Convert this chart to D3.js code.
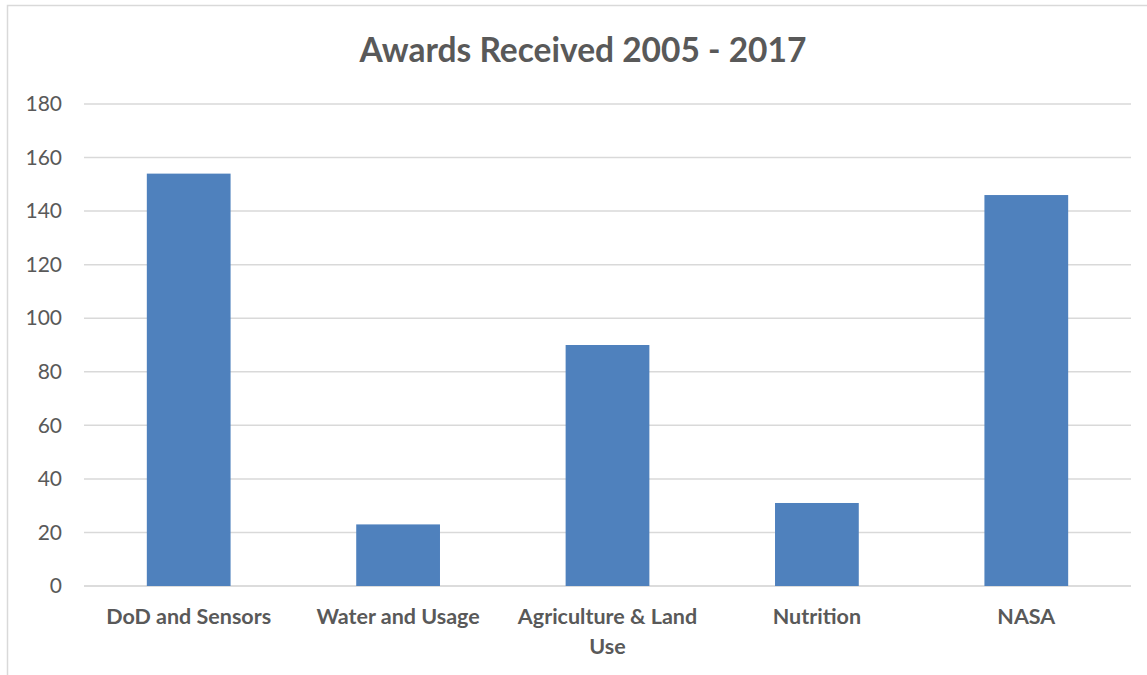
<!DOCTYPE html>
<html><head><meta charset="utf-8">
<script src="https://cdn.jsdelivr.net/npm/d3@7"></script>
<style>body{margin:0;background:#fff;} svg{display:block;}</style>
</head><body>
<script>
const categories = ["DoD and Sensors", "Water and Usage", "Agriculture & Land Use", "Nutrition", "NASA"];
const categoryLines = [["DoD and Sensors"], ["Water and Usage"], ["Agriculture & Land", "Use"], ["Nutrition"], ["NASA"]];
const values = [154, 23, 90, 31, 146];
const yTicks = [0, 20, 40, 60, 80, 100, 120, 140, 160, 180];
const title = "Awards Received 2005 - 2017";

const W = 1147, H = 675;
const svg = d3.select("body").append("svg").attr("width", W).attr("height", H);
const font = "Lato, 'Open Sans', sans-serif";

// chart border
svg.append("path").attr("d", `M7.5,${H} V5.5 H${W}`).attr("fill", "none").attr("stroke", "#d9d9d9").attr("stroke-width", 1.5);

const plotL = 84, plotR = 1131, plotT = 104, plotB = 586;
const x = d3.scaleBand().domain(categories).range([plotL, plotR]).paddingInner(0.6).paddingOuter(0.3);
const y = d3.scaleLinear().domain([0, 180]).range([plotB, plotT]);

svg.append("text").attr("x", 583).attr("y", 62).attr("text-anchor", "middle")
  .attr("font-family", font).attr("font-weight", "bold").attr("font-size", 33.5).attr("fill", "#595959").text(title);

const grid = svg.append("g");
grid.selectAll("line").data(yTicks).join("line")
  .attr("x1", plotL).attr("x2", plotR).attr("y1", d => y(d)).attr("y2", d => y(d))
  .attr("stroke", d => d === 0 ? "#d0d0d0" : "#d9d9d9").attr("stroke-width", 1.5);

const yAxis = svg.append("g").attr("transform", `translate(${plotL},0)`)
  .call(d3.axisLeft(y).tickValues(yTicks).tickSize(0).tickPadding(22));
yAxis.select(".domain").remove();
yAxis.selectAll("text").attr("font-family", font).attr("font-size", 21).attr("fill", "#595959");

svg.append("g").selectAll("rect").data(values).join("rect")
  .attr("x", (d, i) => x(categories[i])).attr("width", x.bandwidth())
  .attr("y", d => y(d)).attr("height", d => y(0) - y(d)).attr("fill", "#4f81bd");

const labels = svg.append("g").selectAll("text").data(categories).join("text")
  .attr("text-anchor", "middle").attr("font-family", font).attr("font-weight", "bold")
  .attr("font-size", 21.5).attr("fill", "#595959")
  .attr("transform", d => `translate(${x(d) + x.bandwidth() / 2},624)`);
labels.each(function(d, i) {
  d3.select(this).selectAll("tspan").data(categoryLines[i]).join("tspan")
    .attr("x", 0).attr("dy", (t, j) => j === 0 ? 0 : 30).text(t => t);
});
</script>
</body></html>
